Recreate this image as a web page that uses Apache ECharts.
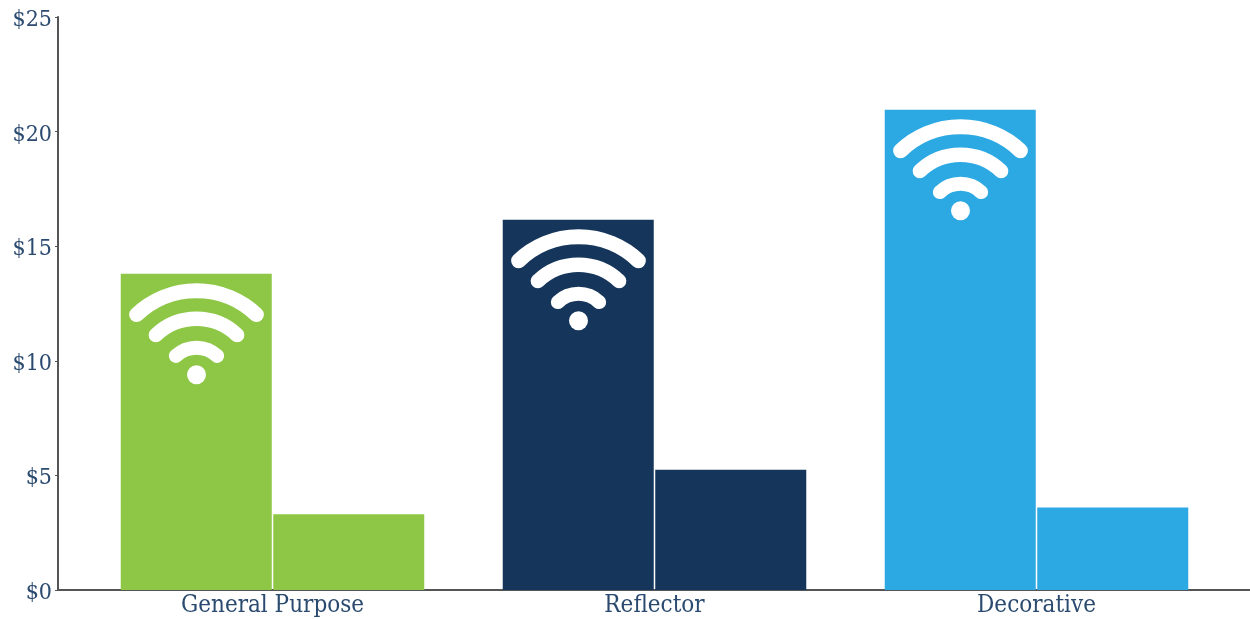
<!DOCTYPE html>
<html><head><meta charset="utf-8"><style>html,body{margin:0;padding:0;background:#fff}#c{width:1250px;height:619px}</style>
<script src="https://cdn.jsdelivr.net/npm/echarts@6/dist/echarts.min.js"></script></head>
<body><div id="c"></div><script>
const categories = ['General Purpose', 'Reflector', 'Decorative'];
const firstValues = [13.8, 16.15, 20.95];
const secondValues = [3.3, 5.25, 3.6];
const barColors = ['#8DC745', '#15355B', '#2CA8E2'];
const yMax = 25, yStep = 5;
const textColor = '#2B4A6F', axisColor = '#555555';
const font = 'DejaVu Serif Condensed';
const chart = echarts.init(document.getElementById('c'));
const colored = vals => vals.map((v, i) => ({value: v, itemStyle: {color: barColors[i]}}));
function wifi(params, api) {
  const p = api.coord([api.value(0), api.value(1)]);
  const cx = p[0] - 76, cy = p[1] + 104;
  const a = 43.5 * Math.PI / 180;
  const arcs = [[87, 15], [59, 14.5], [30, 14]].map(([r, w]) => ({
    type: 'arc',
    shape: {cx, cy, r, startAngle: -Math.PI / 2 - a, endAngle: -Math.PI / 2 + a},
    style: {stroke: '#fff', lineWidth: w, lineCap: 'round', fill: null}
  }));
  arcs.push({type: 'circle', shape: {cx, cy: cy - 3, r: 9.5}, style: {fill: '#fff'}});
  return {type: 'group', children: arcs};
}
const bar = (vals) => ({type: 'bar', xAxisIndex: 1, yAxisIndex: 1, data: colored(vals), barWidth: 151, barGap: '1%', silent: true});
chart.setOption({
  animation: false,
  backgroundColor: '#fff',
  grid: [
    {left: 58, right: 0, top: 17, height: 573},
    {left: 81.5, width: 1146, top: 17, height: 573}
  ],
  xAxis: [
    {gridIndex: 0, type: 'value', min: 0, max: 1, axisLine: {show: true, lineStyle: {color: axisColor, width: 2}}, axisTick: {show: false}, axisLabel: {show: false}, splitLine: {show: false}},
    {gridIndex: 1, type: 'category', data: categories, axisLine: {show: false}, axisTick: {show: false},
     axisLabel: {color: textColor, fontFamily: font, fontSize: 24, margin: 4}}
  ],
  yAxis: [
    {gridIndex: 0, type: 'value', min: 0, max: yMax, interval: yStep, axisLine: {show: true, lineStyle: {color: axisColor, width: 2}},
     axisTick: {show: true, length: 3, lineStyle: {color: axisColor, width: 1}}, splitLine: {show: false},
     axisLabel: {color: textColor, fontFamily: font, fontSize: 23, margin: 6, verticalAlign: 'top', lineHeight: 6, formatter: '${value}'}},
    {gridIndex: 1, type: 'value', min: 0, max: yMax, interval: yStep, show: false}
  ],
  series: [
    bar(firstValues),
    bar(secondValues),
    {type: 'custom', xAxisIndex: 1, yAxisIndex: 1, z: 5, silent: true, renderItem: wifi,
     data: firstValues.map((v, i) => [i, v])}
  ]
});
</script></body></html>
